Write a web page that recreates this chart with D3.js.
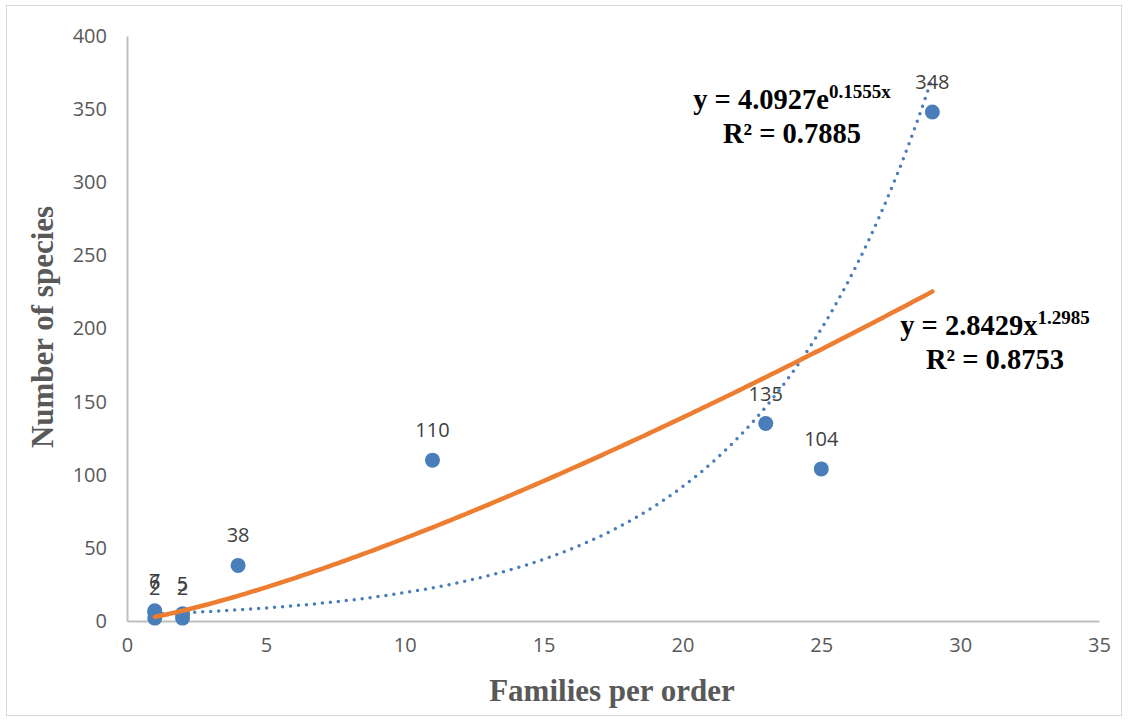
<!DOCTYPE html>
<html>
<head>
<meta charset="utf-8">
<script src="https://cdn.jsdelivr.net/npm/d3@7"></script>
<style>
  html, body { margin: 0; padding: 0; background: #fff; }
  svg { display: block; }
</style>
</head>
<body>
<svg id="chart" width="1128" height="722"></svg>
<script>
// Families per order vs. number of species
const families = [1, 1, 1, 2, 2, 4, 11, 23, 25, 29];
const species  = [2, 6, 7, 2, 5, 38, 110, 135, 104, 348];

const xTicks = [0, 5, 10, 15, 20, 25, 30, 35];
const yTicks = [0, 50, 100, 150, 200, 250, 300, 350, 400];

// Fitted trend lines
const expFit   = { a: 4.0927, b: 0.1555, r2: "0.7885" };
const powerFit = { a: 2.8429, b: 1.2985, r2: "0.8753" };

const svg = d3.select("#chart");
const W = 1128, H = 722;
const m = { left: 127, right: 1099, top: 36, bottom: 621 };

svg.append("rect")
  .attr("x", 6.5).attr("y", 5.5)
  .attr("width", W - 13).attr("height", H - 12)
  .attr("fill", "#fff").attr("stroke", "#d9d9d9").attr("stroke-width", 1);

const x = d3.scaleLinear().domain([0, 35]).range([m.left, m.right]);
const y = d3.scaleLinear().domain([0, 400]).range([m.bottom, m.top]);

const tickFont = "'Open Sans', 'Liberation Sans', Arial, sans-serif";
const serif = "'Liberation Serif', 'Times New Roman', serif";

// Axes
const xAxis = svg.append("g")
  .attr("transform", `translate(0,${m.bottom})`)
  .call(d3.axisBottom(x).tickValues(xTicks).tickSize(0).tickPadding(17));
const yAxis = svg.append("g")
  .attr("transform", `translate(${m.left},0)`)
  .call(d3.axisLeft(y).tickValues(yTicks).tickSize(0).tickPadding(20));

[xAxis, yAxis].forEach(g => {
  g.select(".domain").attr("stroke", "#bfbfbf").attr("stroke-width", 2);
  g.selectAll("text")
    .attr("fill", "#595959")
    .style("font-family", tickFont)
    .style("font-size", "20px");
});

// Axis titles
svg.append("text")
  .attr("x", 612).attr("y", 701)
  .attr("text-anchor", "middle")
  .attr("fill", "#595959")
  .style("font-family", serif)
  .style("font-weight", "bold")
  .style("font-size", "31px")
  .text("Families per order");

svg.append("text")
  .attr("transform", `translate(53,327) rotate(-90)`)
  .attr("text-anchor", "middle")
  .attr("fill", "#595959")
  .style("font-family", serif)
  .style("font-weight", "bold")
  .style("font-size", "31px")
  .text("Number of species");

// Trend curves, drawn over the fitted x range
const xMin = d3.min(families), xMax = d3.max(families);
const steps = d3.range(0, 201).map(i => xMin + (xMax - xMin) * i / 200);

const line = d3.line().x(d => x(d[0])).y(d => y(d[1]));

svg.append("path")
  .datum(steps.map(v => [v, expFit.a * Math.exp(expFit.b * v)]))
  .attr("d", line)
  .attr("fill", "none")
  .attr("stroke", "#4a7ebb")
  .attr("stroke-width", 3.5)
  .attr("stroke-linecap", "round")
  .attr("stroke-dasharray", "0 8");

// Points
const pts = families.map((f, i) => ({ f, s: species[i] }));
svg.append("g").selectAll("circle")
  .data(pts).join("circle")
  .attr("cx", d => x(d.f))
  .attr("cy", d => y(d.s))
  .attr("r", 7.5)
  .attr("fill", "#4a7ebb");

svg.append("path")
  .datum(steps.map(v => [v, powerFit.a * Math.pow(v, powerFit.b)]))
  .attr("d", line)
  .attr("fill", "none")
  .attr("stroke", "#ed7d31")
  .attr("stroke-width", 4.5)
  .attr("stroke-linecap", "round");

// Data labels
svg.append("g").selectAll("text")
  .data(pts).join("text")
  .attr("x", d => x(d.f))
  .attr("y", d => y(d.s) - 23)
  .attr("text-anchor", "middle")
  .attr("fill", "#404040")
  .style("font-family", tickFont)
  .style("font-size", "20px")
  .text(d => d.s);

// Equation labels
function equation(cx, y0, base, sup, r2) {
  const t = svg.append("text")
    .attr("x", cx).attr("y", y0)
    .attr("text-anchor", "middle")
    .attr("fill", "#000")
    .style("font-family", serif)
    .style("font-weight", "bold")
    .style("font-size", "28.5px");
  t.append("tspan").text(base);
  t.append("tspan").attr("dy", -11).style("font-size", "19px").text(sup);
  svg.append("text")
    .attr("x", cx).attr("y", y0 + 34)
    .attr("text-anchor", "middle")
    .attr("fill", "#000")
    .style("font-family", serif)
    .style("font-weight", "bold")
    .style("font-size", "28.5px")
    .text("R² = " + r2);
}
equation(792, 109, `y = ${expFit.a}e`, `${expFit.b}x`, expFit.r2);
equation(995, 335, `y = ${powerFit.a}x`, `${powerFit.b}`, powerFit.r2);
</script>
</body>
</html>
